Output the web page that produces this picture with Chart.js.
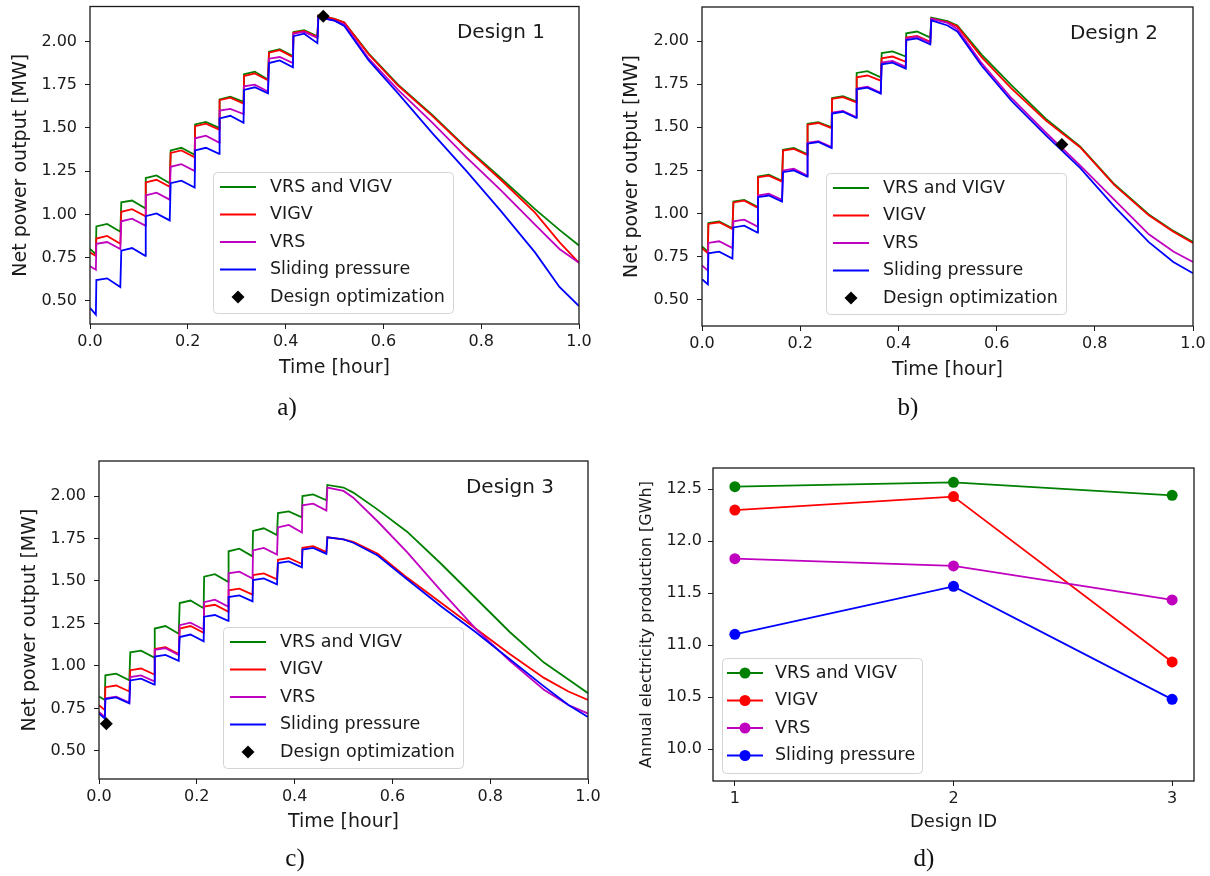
<!DOCTYPE html>
<html>
<head>
<meta charset="utf-8">
<script src="https://cdn.jsdelivr.net/npm/chart.js@4.4.0/dist/chart.umd.min.js"></script>
<style>
  body { margin: 0; background: #fff; width: 1210px; height: 876px; position: relative; overflow: hidden; }
  canvas { position: absolute; left: 0; top: 0; }
  .cap { position: absolute; font-family: "Liberation Serif", "Times New Roman", serif; font-size: 25px; color: #111; transform: translate(-50%, -50%); }
</style>
</head>
<body>
<canvas id="chartA" width="1210" height="876"></canvas>
<canvas id="chartB" width="1210" height="876"></canvas>
<canvas id="chartC" width="1210" height="876"></canvas>
<canvas id="chartD" width="1210" height="876"></canvas>
<div class="cap" style="left:287px;top:407px">a)</div>
<div class="cap" style="left:908px;top:407px">b)</div>
<div class="cap" style="left:295px;top:858px">c)</div>
<div class="cap" style="left:924px;top:858px">d)</div>
<script>
// shared time axis [hour] for the three power curves
const TIME = [0, 0.012,
  0.013, 0.035, 0.062,
  0.064, 0.086, 0.113,
  0.114, 0.136, 0.163,
  0.165, 0.187, 0.214,
  0.215, 0.237, 0.264,
  0.265, 0.287, 0.314,
  0.315, 0.337, 0.364,
  0.366, 0.388, 0.415,
  0.416, 0.438, 0.465,
  0.467, 0.50, 0.52, 0.57, 0.63, 0.70, 0.77, 0.84, 0.91, 0.96, 1.0];

const SERIES = ["VRS and VIGV", "VIGV", "VRS", "Sliding pressure"];
const OPT_LABEL = "Design optimization";

// Design 1
const D1_BOTH = [0.80, 0.77,
  0.93, 0.945, 0.90, 1.07, 1.08, 1.035, 1.21, 1.225, 1.18,
  1.37, 1.385, 1.345, 1.52, 1.535, 1.50, 1.665, 1.68, 1.65,
  1.81, 1.825, 1.78, 1.94, 1.955, 1.915, 2.055, 2.065, 2.03,
  2.15, 2.13, 2.11, 1.93, 1.75, 1.575, 1.385, 1.21, 1.03, 0.91, 0.82];
const D1_VIGV = [0.78, 0.76,
  0.86, 0.875, 0.83, 1.015, 1.03, 0.99, 1.185, 1.20, 1.16,
  1.355, 1.37, 1.33, 1.51, 1.525, 1.49, 1.66, 1.675, 1.64,
  1.80, 1.815, 1.775, 1.935, 1.95, 1.91, 2.05, 2.06, 2.025,
  2.15, 2.13, 2.11, 1.925, 1.745, 1.57, 1.38, 1.20, 1.01, 0.84, 0.72];
const D1_VRS = [0.70, 0.68,
  0.83, 0.84, 0.80, 0.96, 0.975, 0.935, 1.11, 1.125, 1.085,
  1.275, 1.29, 1.25, 1.44, 1.455, 1.415, 1.60, 1.61, 1.58,
  1.74, 1.75, 1.71, 1.90, 1.91, 1.875, 2.045, 2.055, 2.02,
  2.14, 2.12, 2.10, 1.90, 1.72, 1.53, 1.33, 1.14, 0.94, 0.80, 0.72];
const D1_SLIDE = [0.46, 0.42,
  0.62, 0.63, 0.58, 0.79, 0.805, 0.76, 0.99, 1.005, 0.965,
  1.18, 1.195, 1.155, 1.37, 1.385, 1.35, 1.555, 1.57, 1.53,
  1.72, 1.735, 1.70, 1.875, 1.89, 1.85, 2.03, 2.045, 1.99,
  2.14, 2.12, 2.09, 1.89, 1.70, 1.47, 1.25, 1.02, 0.78, 0.58, 0.47];
const D1_OPT_T = [0.477];
const D1_OPT_P = [2.145];

// Design 2
const D2_BOTH = [0.81, 0.78,
  0.945, 0.955, 0.915, 1.07, 1.08, 1.04, 1.215, 1.225, 1.19,
  1.37, 1.38, 1.345, 1.52, 1.53, 1.50, 1.67, 1.68, 1.65,
  1.815, 1.825, 1.79, 1.93, 1.94, 1.91, 2.045, 2.055, 2.02,
  2.135, 2.115, 2.09, 1.92, 1.745, 1.55, 1.39, 1.17, 0.995, 0.90, 0.835];
const D2_VIGV = [0.80, 0.77,
  0.94, 0.95, 0.91, 1.065, 1.075, 1.035, 1.21, 1.22, 1.185,
  1.365, 1.375, 1.34, 1.515, 1.525, 1.495, 1.665, 1.675, 1.645,
  1.79, 1.80, 1.77, 1.90, 1.91, 1.88, 2.02, 2.03, 1.995,
  2.13, 2.11, 2.085, 1.905, 1.725, 1.54, 1.385, 1.165, 0.99, 0.895, 0.83];
const D2_VRS = [0.70, 0.67,
  0.83, 0.84, 0.80, 0.955, 0.965, 0.925, 1.105, 1.115, 1.08,
  1.25, 1.26, 1.22, 1.41, 1.42, 1.385, 1.585, 1.595, 1.56,
  1.725, 1.735, 1.70, 1.875, 1.885, 1.85, 2.015, 2.025, 1.99,
  2.13, 2.105, 2.07, 1.87, 1.67, 1.47, 1.28, 1.08, 0.88, 0.78, 0.72];
const D2_SLIDE = [0.62, 0.59,
  0.77, 0.78, 0.74, 0.92, 0.93, 0.89, 1.095, 1.105, 1.07,
  1.24, 1.25, 1.215, 1.405, 1.415, 1.38, 1.58, 1.59, 1.555,
  1.72, 1.73, 1.695, 1.865, 1.875, 1.84, 2.005, 2.015, 1.98,
  2.12, 2.09, 2.055, 1.855, 1.655, 1.455, 1.265, 1.04, 0.835, 0.72, 0.655];
const D2_OPT_T = [0.733];
const D2_OPT_P = [1.40];

// Design 3
const D3_BOTH = [0.82, 0.80,
  0.945, 0.955, 0.915, 1.08, 1.09, 1.05, 1.22, 1.235, 1.19,
  1.37, 1.385, 1.34, 1.525, 1.54, 1.495, 1.675, 1.69, 1.645,
  1.795, 1.81, 1.77, 1.90, 1.91, 1.875, 2.00, 2.01, 1.975,
  2.065, 2.05, 2.02, 1.92, 1.79, 1.60, 1.40, 1.20, 1.02, 0.92, 0.84];
const D3_VIGV = [0.77, 0.74,
  0.875, 0.885, 0.85, 0.975, 0.985, 0.95, 1.10, 1.11, 1.07,
  1.22, 1.235, 1.195, 1.35, 1.36, 1.32, 1.445, 1.455, 1.42,
  1.535, 1.545, 1.51, 1.625, 1.635, 1.60, 1.695, 1.705, 1.67,
  1.757, 1.745, 1.73, 1.66, 1.52, 1.37, 1.22, 1.07, 0.93, 0.85, 0.80];
const D3_VRS = [0.73, 0.70,
  0.81, 0.82, 0.785, 0.935, 0.945, 0.91, 1.095, 1.105, 1.065,
  1.24, 1.255, 1.215, 1.375, 1.39, 1.35, 1.545, 1.555, 1.515,
  1.68, 1.695, 1.655, 1.815, 1.83, 1.785, 1.945, 1.955, 1.915,
  2.05, 2.03, 1.99, 1.85, 1.67, 1.44, 1.22, 1.03, 0.86, 0.77, 0.72];
const D3_SLIDE = [0.72, 0.69,
  0.805, 0.815, 0.78, 0.915, 0.925, 0.89, 1.055, 1.065, 1.03,
  1.17, 1.185, 1.145, 1.29, 1.30, 1.265, 1.405, 1.415, 1.38,
  1.505, 1.515, 1.48, 1.605, 1.615, 1.58, 1.685, 1.695, 1.66,
  1.757, 1.745, 1.725, 1.65, 1.51, 1.35, 1.20, 1.04, 0.88, 0.77, 0.70];
const D3_OPT_T = [0.015];
const D3_OPT_P = [0.66];

// annual production per design
const DESIGN_ID = [1, 2, 3];
const ANN_BOTH = [12.525, 12.567, 12.442];
const ANN_VIGV = [12.30, 12.43, 10.84];
const ANN_VRS = [11.833, 11.763, 11.436];
const ANN_SLIDE = [11.106, 11.567, 10.48];

const TIME_TICKS = [0, 0.2, 0.4, 0.6, 0.8, 1.0];
const POWER_TICKS = [0.5, 0.75, 1.0, 1.25, 1.5, 1.75, 2.0];
const ID_TICKS = [1, 2, 3];
const ANN_TICKS = [10.0, 10.5, 11.0, 11.5, 12.0, 12.5];

const COLORS = ["#008000", "#ff0000", "#bf00bf", "#0000ff"];
const FONT = "'DejaVu Sans', sans-serif";
const INK = "#1a1a1a";
const W = 1210, H = 876;

// box round the plot area, like matplotlib spines
const framePlugin = {
  id: "frame",
  afterDatasetsDraw(chart) {
    const { ctx, chartArea: a } = chart;
    ctx.save();
    ctx.strokeStyle = INK;
    ctx.lineWidth = 1.3;
    ctx.strokeRect(a.left, a.top, a.right - a.left, a.bottom - a.top);
    ctx.restore();
  },
};

// legend inside the axes + "Design n" tag
const boxLegend = {
  id: "boxLegend",
  afterDraw(chart, args, o) {
    if (!o || !o.box) return;
    const ctx = chart.ctx;
    const [bx, by, bw, bh] = o.box;
    ctx.save();
    ctx.beginPath();
    ctx.roundRect(bx + 0.5, by + 0.5, bw, bh, 4);
    ctx.fillStyle = "rgba(255,255,255,0.85)";
    ctx.fill();
    ctx.strokeStyle = "#d4d4d4";
    ctx.lineWidth = 1;
    ctx.stroke();

    ctx.font = o.fontSize + "px " + FONT;
    ctx.textBaseline = "middle";
    chart.data.datasets.forEach((ds, i) => {
      const yy = o.row0 + i * o.step;
      if (ds.showLine !== false) {
        ctx.beginPath();
        ctx.moveTo(o.line[0], yy);
        ctx.lineTo(o.line[1], yy);
        ctx.strokeStyle = ds.borderColor;
        ctx.lineWidth = ds.borderWidth;
        ctx.stroke();
      }
      if (ds.pointRadius > 0) {
        ctx.fillStyle = ds.pointBackgroundColor;
        ctx.strokeStyle = ds.pointBackgroundColor;
        Chart.helpers.drawPoint(ctx, { pointStyle: ds.pointStyle, radius: ds.pointRadius, borderWidth: 0, rotation: 0 },
          (o.line[0] + o.line[1]) / 2, yy);
      }
      ctx.fillStyle = INK;
      ctx.fillText(ds.label, o.textX, yy);
    });

    if (o.tag) {
      ctx.font = "20px " + FONT;
      ctx.textAlign = "center";
      ctx.fillStyle = INK;
      ctx.fillText(o.tag[0], o.tag[1], o.tag[2]);
    }
    ctx.restore();
  },
};

function axisStyle(area, tickList, fmt, pad) {
  return {
    afterBuildTicks: (s) => { s.ticks = tickList.map((v) => ({ value: v })); },
    grid: { drawOnChartArea: false, drawTicks: true, tickLength: 5, color: INK, lineWidth: 1 },
    border: { display: false },
    ticks: { font: { family: FONT, size: 16 }, color: INK, padding: pad, maxRotation: 0, autoSkip: false,
      callback: (v) => Number(v).toFixed(fmt) },
  };
}

function makeChart(id, p) {
  const xTitleH = p.xFont * 1.2;
  const yTitleH = p.yFont * 1.2;
  const padLeft = p.yTitleX - yTitleH / 2;
  const padBottom = H - (p.xTitleY + xTitleH / 2);

  const xScale = Object.assign(axisStyle(p.area, p.xTicks, p.xFmt, p.xPad), {
    type: "linear", min: p.xMin, max: p.xMax,
    afterFit: (s) => { s.height = p.xTitleY + xTitleH / 2 - p.area.b; s.paddingLeft = 0; s.paddingRight = 0; },
    title: { display: true, text: p.xTitle, font: { family: FONT, size: p.xFont }, color: INK, padding: 0 },
  });
  const yScale = Object.assign(axisStyle(p.area, p.yTicks, p.yFmt, p.yPad), {
    type: "linear", min: p.yMin, max: p.yMax,
    afterFit: (s) => { s.width = p.area.l - padLeft; s.paddingTop = 0; s.paddingBottom = 0; },
    title: { display: true, text: p.yTitle, font: { family: FONT, size: p.yFont }, color: INK, padding: 0 },
  });

  return new Chart(document.getElementById(id), {
    type: "line",
    data: { datasets: p.datasets },
    options: {
      responsive: false,
      animation: false,
      events: [],
      layout: { padding: { left: padLeft, top: p.area.t, right: W - p.area.r, bottom: padBottom } },
      scales: { x: xScale, y: yScale },
      plugins: { legend: { display: false }, tooltip: { enabled: false }, boxLegend: p.legend },
    },
    plugins: [framePlugin, boxLegend],
  });
}

function powerSets(series, optT, optP) {
  const sets = series.map((vals, i) => ({
    label: SERIES[i],
    data: TIME.map((t, k) => ({ x: t, y: vals[k] })),
    borderColor: COLORS[i],
    borderWidth: 1.8,
    pointRadius: 0,
    tension: 0,
    order: 4 - i,
  }));
  sets.push({
    label: OPT_LABEL,
    data: optT.map((t, k) => ({ x: t, y: optP[k] })),
    showLine: false,
    pointStyle: "rectRot",
    pointRadius: 6.5,
    pointBackgroundColor: "#000",
    pointBorderColor: "#000",
    pointBorderWidth: 0,
    borderColor: "#000",
    borderWidth: 0,
    order: 0,
  });
  return sets;
}

function powerPanel(id, area, yMin, yMax, yTitleX, xTitleY, series, optT, optP, legendAt, tag) {
  makeChart(id, {
    area, yTitleX, xTitleY,
    xMin: 0, xMax: 1, xTicks: TIME_TICKS, xFmt: 1, xPad: 3, xTitle: "Time [hour]", xFont: 19,
    yMin, yMax, yTicks: POWER_TICKS, yFmt: 2, yPad: 8, yTitle: "Net power output [MW]", yFont: 19,
    datasets: powerSets(series, optT, optP),
    legend: {
      box: [legendAt[0], legendAt[1], 240, 141],
      row0: legendAt[1] + 15, step: 27.5,
      line: [legendAt[0] + 7, legendAt[0] + 43], textX: legendAt[0] + 57, fontSize: 17.5,
      tag,
    },
  });
}

powerPanel("chartA", { l: 90, t: 6, r: 579, b: 324 }, 0.366, 2.202, 21, 368,
  [D1_BOTH, D1_VIGV, D1_VRS, D1_SLIDE], D1_OPT_T, D1_OPT_P, [213, 172], ["Design 1", 501, 33]);
powerPanel("chartB", { l: 702, t: 7, r: 1193, b: 326 }, 0.349, 2.197, 632, 370,
  [D2_BOTH, D2_VIGV, D2_VRS, D2_SLIDE], D2_OPT_T, D2_OPT_P, [826, 173], ["Design 2", 1114, 34]);
powerPanel("chartC", { l: 99, t: 461, r: 588, b: 779 }, 0.335, 2.206, 30, 822,
  [D3_BOTH, D3_VIGV, D3_VRS, D3_SLIDE], D3_OPT_T, D3_OPT_P, [223, 627], ["Design 3", 510, 488]);

// panel d
makeChart("chartD", {
  area: { l: 713, t: 468, r: 1194, b: 781 }, yTitleX: 647, xTitleY: 822,
  xMin: 0.9, xMax: 3.1, xTicks: ID_TICKS, xFmt: 0, xPad: 3, xTitle: "Design ID", xFont: 18,
  yMin: 9.695, yMax: 12.705, yTicks: ANN_TICKS, yFmt: 1, yPad: 6, yTitle: "Annual electricity production [GWh]", yFont: 16,
  datasets: [ANN_BOTH, ANN_VIGV, ANN_VRS, ANN_SLIDE].map((vals, i) => ({
    label: SERIES[i],
    data: DESIGN_ID.map((d, k) => ({ x: d, y: vals[k] })),
    borderColor: COLORS[i],
    borderWidth: 1.8,
    pointRadius: 5.5,
    pointStyle: "circle",
    pointBackgroundColor: COLORS[i],
    pointBorderColor: COLORS[i],
    pointBorderWidth: 0,
    tension: 0,
    order: 4 - i,
  })),
  legend: {
    box: [722, 658, 200, 115],
    row0: 673, step: 27.5,
    line: [727, 763], textX: 775, fontSize: 17.5,
  },
});
</script>
</body>
</html>
